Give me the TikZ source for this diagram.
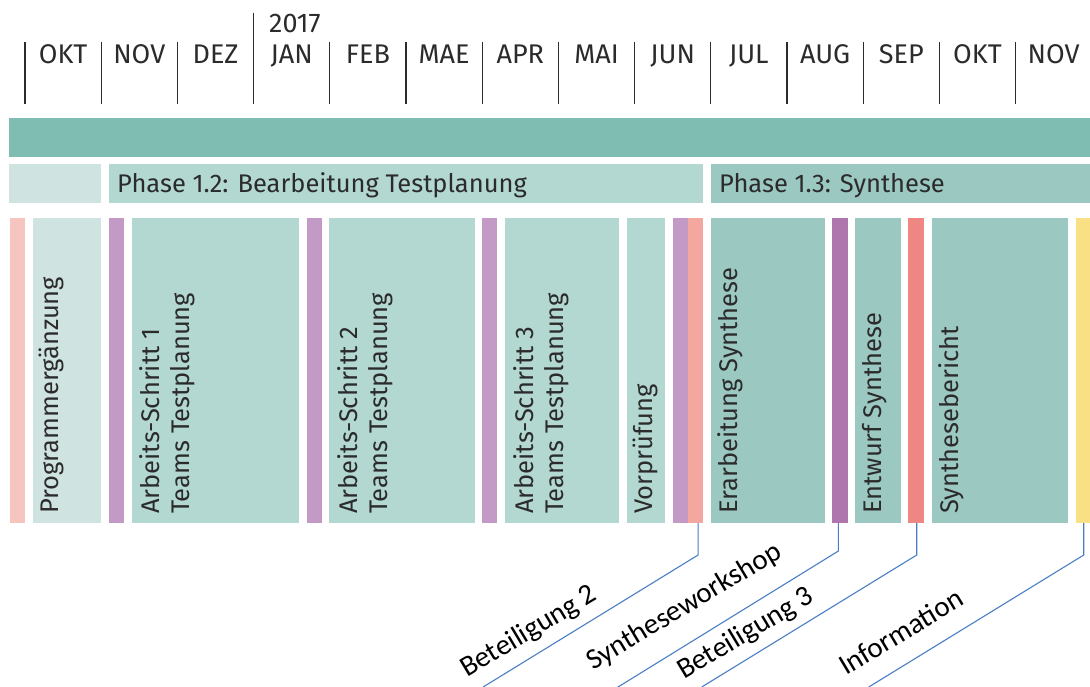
\documentclass[tikz,border=0pt]{standalone}
\usepackage{fontspec}
\setmainfont{Fira Sans}
\newfontfamily\calloutfont{Carlito}
\usetikzlibrary{positioning,calc}
\definecolor{topteal}{HTML}{7FBDB2}
\definecolor{paleteal}{HTML}{CFE3E0}
\definecolor{midteal}{HTML}{B3D8D2}
\definecolor{deepteal}{HTML}{9CC8C2}
\definecolor{rosebar}{HTML}{F6C5C0}
\definecolor{lilacbar}{HTML}{C39AC5}
\definecolor{salmonbar}{HTML}{F4A79E}
\definecolor{plumbar}{HTML}{AE76AC}
\definecolor{redbar}{HTML}{EE8683}
\definecolor{yellowbar}{HTML}{F9E085}
\definecolor{calloutblue}{HTML}{4A7EC4}
\definecolor{inkgray}{HTML}{2B2B2B}

\begin{document}
\begin{tikzpicture}[x=1pt, y=-1pt, font=\fontsize{25.5}{30}\selectfont, text=inkgray,
    tick/.style={draw=inkgray, line width=1.3pt},
    month/.style={anchor=base, inner sep=0, font=\fontsize{27}{30}\selectfont},
    band/.style={inner sep=0, outer sep=0, anchor=north west, minimum height=38.4pt},
    colbox/.style={inner sep=0, outer sep=0, anchor=north west, minimum height=305pt},
    coltext/.style={rotate=90, anchor=north west, inner sep=0, align=left},
    callout/.style={draw=calloutblue, line width=1.1pt},
    lbl/.style={rotate=31, anchor=base west, inner sep=0, text=black, font=\calloutfont\fontsize{29}{32}\selectfont}]
    \useasboundingbox (0,0) rectangle (1090,686);

    \foreach \i in {0,...,13}
        \draw[tick] (25+76.2*\i,42) -- (25+76.2*\i,104);
    \draw[tick] (253.6,12.7) -- (253.6,42);

    \node[anchor=base west, inner sep=0, font=\fontsize{27}{30}\selectfont] (year) at (269,32.3) {2017};
    \node[month] (m1) at (63.1,63.3) {OKT};
    \node[month] (m2) at (139.3,63.3) {NOV};
    \node[month] (m3) at (215.5,63.3) {DEZ};
    \node[month] (m4) at (291.7,63.3) {JAN};
    \node[month] (m5) at (367.9,63.3) {FEB};
    \node[month] (m6) at (444.1,63.3) {MAE};
    \node[month] (m7) at (520.3,63.3) {APR};
    \node[month] (m8) at (596.5,63.3) {MAI};
    \node[month] (m9) at (672.7,63.3) {JUN};
    \node[month] (m10) at (748.9,63.3) {JUL};
    \node[month] (m11) at (825.1,63.3) {AUG};
    \node[month] (m12) at (901.3,63.3) {SEP};
    \node[month] (m13) at (977.5,63.3) {OKT};
    \node[month] (m14) at (1053.7,63.3) {NOV};

    \node[band, fill=topteal, minimum width=1081pt] (phase1) at (9,118.3) {};
    \node[band, fill=paleteal, minimum width=92pt] (ph11) at (9,164.3) {};
    \node[band, fill=midteal, minimum width=594.3pt] (ph12) at (109,164.3) {};
    \node[band, fill=deepteal, minimum width=379pt] (ph13) at (711,164.3) {};
    \node[anchor=base west, inner sep=0] (ph12txt) at ($(ph12.west)+(8,9.2)$) {Phase 1.2: Bearbeitung Testplanung};
    \node[anchor=base west, inner sep=0] (ph13txt) at ($(ph13.west)+(8,9.2)$) {Phase 1.3: Synthese};

    \node[colbox, fill=rosebar, minimum width=15pt] (rose) at (10,218) {};
    \node[colbox, fill=paleteal, minimum width=68.3pt] (prog) at (32.7,218) {};
    \node[colbox, fill=lilacbar, minimum width=15.3pt] (lil1) at (109,218) {};
    \node[colbox, fill=midteal, minimum width=167.6pt] (as1) at (131.7,218) {};
    \node[colbox, fill=lilacbar, minimum width=15.6pt] (lil2) at (306.7,218) {};
    \node[colbox, fill=midteal, minimum width=145.7pt] (as2) at (329.3,218) {};
    \node[colbox, fill=lilacbar, minimum width=15pt] (lil3) at (482.3,218) {};
    \node[colbox, fill=midteal, minimum width=114.3pt] (as3) at (505,218) {};
    \node[colbox, fill=midteal, minimum width=38.3pt] (vor) at (626.7,218) {};
    \node[colbox, fill=lilacbar, minimum width=15.2pt] (lil4) at (672.5,218) {};
    \node[colbox, fill=salmonbar, minimum width=15.6pt] (sal) at (687.7,218) {};
    \node[colbox, fill=deepteal, minimum width=114.3pt] (era) at (710.7,218) {};
    \node[colbox, fill=plumbar, minimum width=15.4pt] (plum) at (832.3,218) {};
    \node[colbox, fill=deepteal, minimum width=46pt] (ent) at (855,218) {};
    \node[colbox, fill=redbar, minimum width=15.7pt] (red) at (908.3,218) {};
    \node[colbox, fill=deepteal, minimum width=136.6pt] (sber) at (931.7,218) {};
    \node[colbox, fill=yellowbar, minimum width=15.5pt] (yel) at (1076,218) {};

    \node[coltext] (progtxt) at ($(prog.south west)+(6,-9)$) {Programmergänzung};
    \node[coltext] (as1txt) at ($(as1.south west)+(8,-9)$) {Arbeits-Schritt 1\\Teams Testplanung};
    \node[coltext] (as2txt) at ($(as2.south west)+(8,-9)$) {Arbeits-Schritt 2\\Teams Testplanung};
    \node[coltext] (as3txt) at ($(as3.south west)+(8,-9)$) {Arbeits-Schritt 3\\Teams Testplanung};
    \node[coltext] (vortxt) at ($(vor.south west)+(6,-9)$) {Vorprüfung};
    \node[coltext] (eratxt) at ($(era.south west)+(7,-9)$) {Erarbeitung Synthese};
    \node[coltext] (enttxt) at ($(ent.south west)+(7,-9)$) {Entwurf Synthese};
    \node[coltext] (sbertxt) at ($(sber.south west)+(7,-9)$) {Synthesebericht};

    \draw[callout] ([xshift=2.6pt]sal.south) -- ++(0,32) -- ++(-215,132);
    \draw[callout] ([xshift=-1.6pt]plum.south) -- ++(0,28) -- ++(-222,137);
    \draw[callout] ([xshift=0.6pt]red.south) -- ++(0,32) -- ++(-215,132);
    \draw[callout] (yel.south) -- ++(0,32) -- ++(-215,132);

    \node[lbl] (bet2) at (467,678) {Beteiligung 2};
    \node[lbl] (swork) at (593,671) {Syntheseworkshop};
    \node[lbl] (bet3) at (684,680) {Beteiligung 3};
    \node[lbl] (info) at (846,676) {Information};
\end{tikzpicture}
\end{document}
